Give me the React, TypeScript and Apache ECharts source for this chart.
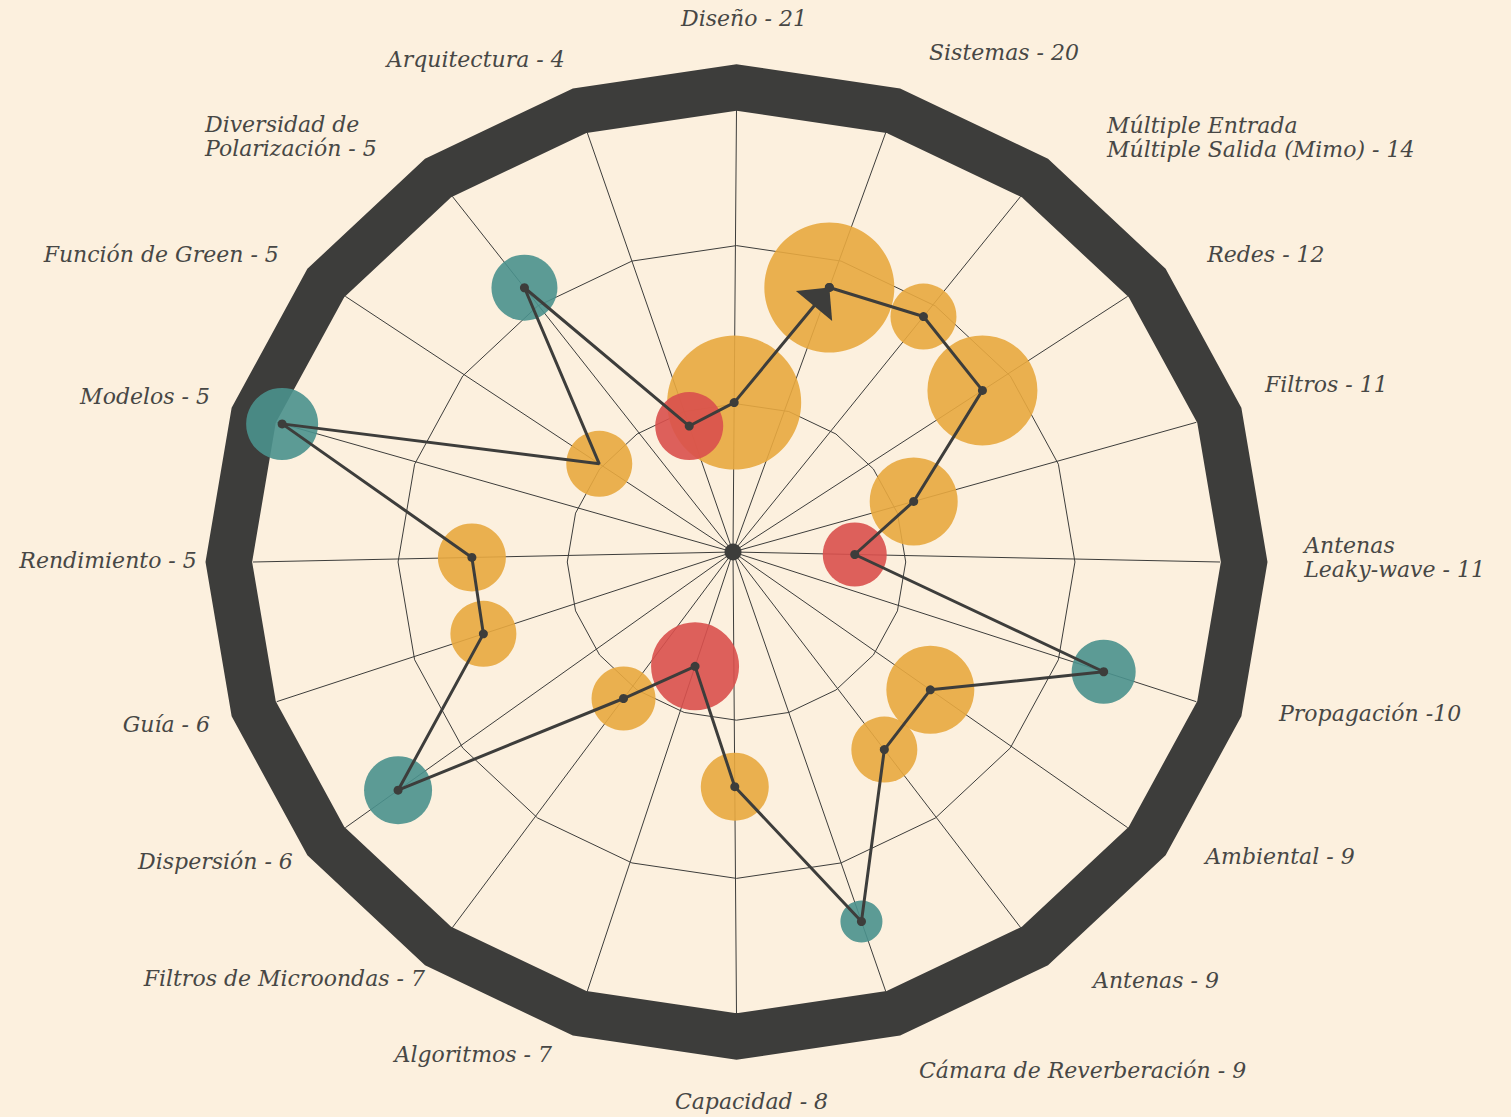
import React, { useEffect, useRef } from "react";
import * as echarts from "echarts";

// ---------------- data ----------------
const AXIS_LABELS = [
  "Diseño - 21",
  "Sistemas - 20",
  "Múltiple Entrada\nMúltiple Salida (Mimo) - 14",
  "Redes - 12",
  "Filtros - 11",
  "Antenas\nLeaky-wave - 11",
  "Propagación -10",
  "Ambiental - 9",
  "Antenas - 9",
  "Cámara de Reverberación - 9",
  "Capacidad - 8",
  "Algoritmos - 7",
  "Filtros de Microondas - 7",
  "Dispersión - 6",
  "Guía - 6",
  "Rendimiento - 5",
  "Modelos - 5",
  "Función de Green - 5",
  "Diversidad de\nPolarización - 5",
  "Arquitectura - 4",
];
// radial position of each bubble (0 = centre, 1 = inner edge of the frame)
const VALUES = [0.338, 0.63, 0.662, 0.632, 0.39, 0.25, 0.8, 0.5, 0.526, 0.84, 0.508, 0.26, 0.39, 0.864, 0.547, 0.544, 0.988, 0.345, 0.743, 0.3];
// bubble radius
const BUBBLE_RADIUS = [67, 65, 33, 55, 44, 32, 32, 44, 33, 21, 34, 44, 32, 34, 33, 34, 36, 33, 33, 34];
// group of each bubble
const GROUPS = ["o", "o", "o", "o", "o", "r", "t", "o", "o", "t", "o", "r", "o", "t", "o", "o", "t", "o", "t", "r"];
// order in which the path visits the categories
const PATH_ORDER = [1, 2, 3, 4, 5, 6, 7, 8, 9, 10, 11, 12, 13, 14, 15, 16, 17, 18, 19, 0, 1];
const PATH_NO_DOT = [17];
const RING_LEVELS = [0.35, 0.7];

// ---------------- layout & style ----------------
const N = AXIS_LABELS.length;
const CENTER_X = 733;
const CENTER_Y = 552;
const RADIUS_X = 483.5;
const RADIUS_Y = 452;
const FRAME_SHIFT = [3.5 / RADIUS_X, -10 / RADIUS_Y];
const BAND_LEVEL = 1.05;
const BAND_WIDTH = 46;
const LABEL_LEVEL = 1.17;
const LABEL_ALIGN = ["center", "left", "left", "left", "left", "left", "left", "left", "left", "left", "center", "right", "right", "right", "right", "right", "right", "right", "left", "right"];
const LABEL_NUDGE = [
  [7.5, -15], [17.7, -7], [38, 3], [13, 3], [-9.5, -13.6], [2, -5], [4.5, -12.4], [11, -16], [24, -9], [7.7, 6],
  [15, 11], [-9.7, -10], [21, -11], [14, -11], [11.5, -1.4], [26, -2], [11.5, -1.6], [0, 3], [-199, 2], [3, 0],
];
const BG = "#FCF0DE";
const INK = "#3d3d3b";
const TEXT = "#474745";
const COLORS: Record<string, string> = { o: "#E8A93F", r: "#D9504C", t: "#4A918D" };

function frameVertex(k: number, level: number): number[] {
  const t = (2 * Math.PI * k) / N;
  return [FRAME_SHIFT[0] + level * Math.sin(t), FRAME_SHIFT[1] + level * Math.cos(t)];
}
function spokePoint(k: number, v: number): number[] {
  const e = frameVertex(k, 1);
  return [e[0] * v, e[1] * v];
}

export default function App() {
  const ref = useRef<HTMLDivElement>(null);
  useEffect(() => {
    if (!ref.current) return;
    const chart = echarts.init(ref.current, null, { renderer: "svg" });
    const idx = AXIS_LABELS.map((_, i) => i);

    const option: any = {
      animation: false,
      backgroundColor: BG,
      grid: { left: CENTER_X - RADIUS_X, top: CENTER_Y - RADIUS_Y, width: 2 * RADIUS_X, height: 2 * RADIUS_Y },
      xAxis: { type: "value", min: -1, max: 1, show: false },
      yAxis: { type: "value", min: -1, max: 1, show: false },
      series: [
        {
          type: "custom",
          name: "rings",
          z: 1,
          silent: true,
          data: RING_LEVELS.map(() => [0, 0]),
          renderItem: (params: any, api: any) => {
            const L = RING_LEVELS[params.dataIndex];
            const pts = idx.map((k) => api.coord(frameVertex(k, L)));
            return { type: "polygon", shape: { points: pts }, style: { fill: "none", stroke: INK, lineWidth: 1 } };
          },
        },
        {
          type: "custom",
          name: "spokes",
          z: 1,
          silent: true,
          data: idx.map(() => [0, 0]),
          renderItem: (params: any, api: any) => {
            const a = api.coord([0, 0]);
            const b = api.coord(frameVertex(params.dataIndex, 1));
            return { type: "line", shape: { x1: a[0], y1: a[1], x2: b[0], y2: b[1] }, style: { stroke: INK, lineWidth: 1 } };
          },
        },
        {
          type: "custom",
          name: "frame",
          z: 2,
          silent: true,
          data: [[0, 0]],
          renderItem: (params: any, api: any) => {
            const pts = idx.map((k) => api.coord(frameVertex(k, BAND_LEVEL)));
            return {
              type: "polygon",
              shape: { points: pts },
              style: { fill: "none", stroke: INK, lineWidth: BAND_WIDTH, lineJoin: "miter", miterLimit: 10 },
            };
          },
        },
        {
          type: "scatter",
          name: "bubbles",
          z: 3,
          silent: true,
          clip: false,
          data: idx.map((k) => ({
            value: spokePoint(k, VALUES[k]),
            symbolSize: BUBBLE_RADIUS[k] * 2,
            itemStyle: { color: COLORS[GROUPS[k]], opacity: 0.9 },
          })),
        },
        {
          type: "scatter",
          name: "centre",
          z: 4,
          silent: true,
          symbolSize: 17,
          itemStyle: { color: INK, opacity: 1 },
          data: [[0, 0]],
        },
        {
          type: "line",
          name: "path",
          z: 5,
          silent: true,
          clip: false,
          showSymbol: true,
          showAllSymbol: true,
          symbol: "circle",
          symbolSize: 9,
          itemStyle: { color: INK },
          lineStyle: { color: INK, width: 3 },
          data: PATH_ORDER.map((k) => ({
            value: spokePoint(k, VALUES[k]),
            symbol: PATH_NO_DOT.indexOf(k) >= 0 ? "none" : "circle",
          })),
        },
        {
          type: "custom",
          name: "arrow",
          z: 6,
          silent: true,
          data: [[0, 0]],
          renderItem: (params: any, api: any) => {
            const n = PATH_ORDER.length;
            const a = api.coord(spokePoint(PATH_ORDER[n - 2], VALUES[PATH_ORDER[n - 2]]));
            const b = api.coord(spokePoint(PATH_ORDER[n - 1], VALUES[PATH_ORDER[n - 1]]));
            const dx = b[0] - a[0];
            const dy = b[1] - a[1];
            const len = Math.sqrt(dx * dx + dy * dy);
            const ux = dx / len;
            const uy = dy / len;
            const px = -uy;
            const py = ux;
            const L = 24;
            const H = 23.5;
            const bx = b[0] - ux * L;
            const by = b[1] - uy * L;
            return {
              type: "polygon",
              shape: { points: [[b[0], b[1]], [bx + px * H, by + py * H], [bx - px * H, by - py * H]] },
              style: { fill: INK, stroke: "none" },
            };
          },
        },
        {
          type: "custom",
          name: "labels",
          z: 6,
          silent: true,
          data: idx.map(() => [0, 0]),
          renderItem: (params: any, api: any) => {
            const k = params.dataIndex;
            const p = api.coord(frameVertex(k, LABEL_LEVEL));
            return {
              type: "text",
              x: p[0] + LABEL_NUDGE[k][0],
              y: p[1] + LABEL_NUDGE[k][1],
              style: {
                text: AXIS_LABELS[k],
                fill: TEXT,
                fontSize: 22,
                fontStyle: "italic",
                fontFamily: "DejaVu Serif",
                align: LABEL_ALIGN[k],
                verticalAlign: "middle",
                lineHeight: 24,
              },
            };
          },
        },
      ],
    };
    chart.setOption(option);
    return () => chart.dispose();
  }, []);
  return <div ref={ref} style={{ position: "absolute", left: 0, top: 0, width: 1511, height: 1117 }} />;
}
